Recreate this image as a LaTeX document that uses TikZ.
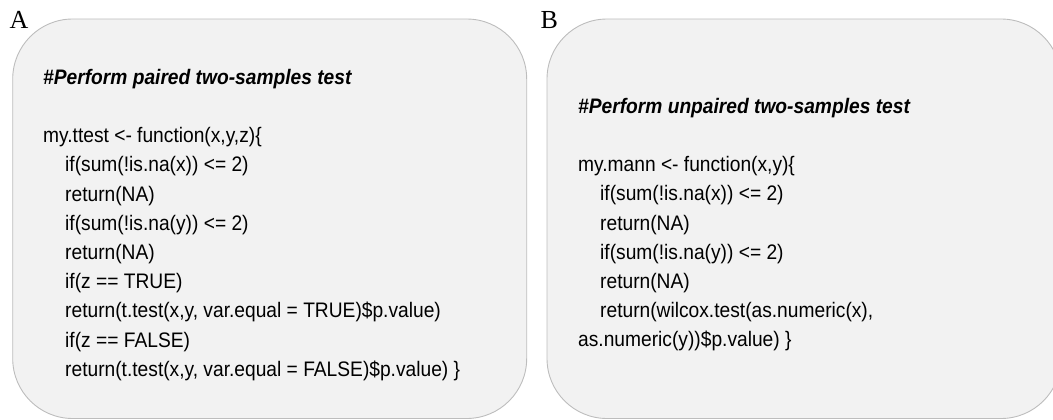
\documentclass[tikz,border=0pt]{standalone}
\usepackage{fontspec}
\setmainfont{Liberation Sans}
% slightly condensed sans face for the code listings
\newfontfamily\codefont{Liberation Sans}[FakeStretch=0.914]
\newfontfamily\labelfont{Liberation Serif}
\definecolor{panelfill}{HTML}{F2F2F2}
\definecolor{panelline}{HTML}{BDBDBD}
\tikzset{
  panel/.style={draw=panelline, fill=panelfill, line width=0.9pt, rounded corners=60pt},
  panellabel/.style={anchor=base west, inner sep=0pt, font=\labelfont\fontsize{26}{30}\selectfont},
  heading/.style={anchor=base west, inner sep=0pt, font=\codefont\fontsize{21}{29.2}\selectfont\bfseries\itshape},
  code/.style={anchor=base west, inner sep=0pt, font=\codefont\fontsize{21}{29.2}\selectfont},
}
\begin{document}
\begin{tikzpicture}[x=1pt, y=-1pt]
  \clip (0,0) rectangle (1053,420);

  % rounded panels
  \draw[panel] (12.7,19) rectangle (526.7,418.5);
  \draw[panel] (547,19) rectangle (1061,418.5);

  % panel letters
  \node[panellabel] (labA) at (9.5,29) {A};
  \node[panellabel] (labB) at (540.5,28.5) {B};

  % panel A: paired test
  \node[heading] (hA) at (43,84.3) {\#Perform paired two-samples test};
  \node[code] (a0) at (43,142.7)  {my.ttest <- function(x,y,z)\{};
  \node[code] (a1) at (65,171.9)  {if(sum(!is.na(x)) <= 2)};
  \node[code] (a2) at (65,201.1)  {return(NA)};
  \node[code] (a3) at (65,230.3)  {if(sum(!is.na(y)) <= 2)};
  \node[code] (a4) at (65,259.5)  {return(NA)};
  \node[code] (a5) at (65,288.7)  {if(z == TRUE)};
  \node[code] (a6) at (65,317.9)  {return(t.test(x,y, var.equal = TRUE)\$p.value)};
  \node[code] (a7) at (65,347.1)  {if(z == FALSE)};
  \node[code] (a8) at (65,376.3)  {return(t.test(x,y, var.equal = FALSE)\$p.value) \}};

  % panel B: unpaired test
  \node[heading] (hB) at (578,113.3) {\#Perform unpaired two-samples test};
  \node[code] (b0) at (578,171.7) {my.mann <- function(x,y)\{};
  \node[code] (b1) at (600,200.9) {if(sum(!is.na(x)) <= 2)};
  \node[code] (b2) at (600,230.1) {return(NA)};
  \node[code] (b3) at (600,259.3) {if(sum(!is.na(y)) <= 2)};
  \node[code] (b4) at (600,288.5) {return(NA)};
  \node[code] (b5) at (600,317.7) {return(wilcox.test(as.numeric(x),};
  \node[code] (b6) at (578,346.9) {as.numeric(y))\$p.value) \}};
\end{tikzpicture}
\end{document}
